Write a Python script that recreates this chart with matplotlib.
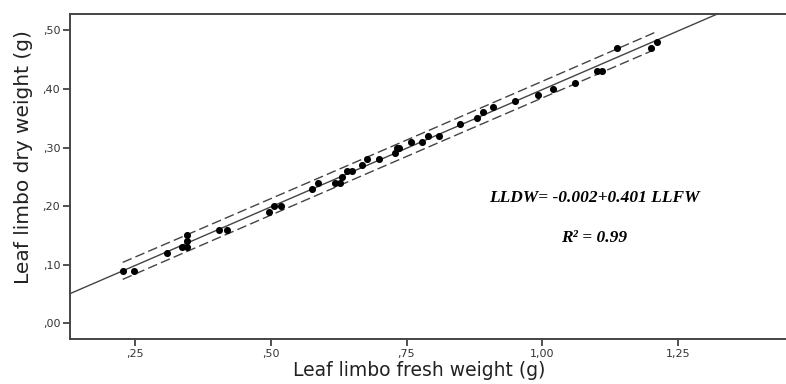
import numpy as np
import matplotlib
matplotlib.use("Agg")
import matplotlib.pyplot as plt
from matplotlib.ticker import FuncFormatter

# Data
fresh = [0.228, 0.248, 0.309, 0.338, 0.347, 0.347, 0.347, 0.406, 0.419, 0.498,
         0.507, 0.520, 0.577, 0.588, 0.618, 0.627, 0.632, 0.640, 0.649, 0.669,
         0.678, 0.699, 0.728, 0.732, 0.737, 0.759, 0.779, 0.789, 0.809, 0.849,
         0.880, 0.890, 0.910, 0.950, 0.991, 1.020, 1.060, 1.101, 1.110, 1.138,
         1.200, 1.210]
dry = [0.09, 0.09, 0.12, 0.13, 0.15, 0.14, 0.13, 0.16, 0.16, 0.19,
       0.20, 0.20, 0.23, 0.24, 0.24, 0.24, 0.25, 0.26, 0.26, 0.27,
       0.28, 0.28, 0.29, 0.30, 0.30, 0.31, 0.31, 0.32, 0.32, 0.34,
       0.35, 0.36, 0.37, 0.38, 0.39, 0.40, 0.41, 0.43, 0.43, 0.47,
       0.47, 0.48]
intercept = -0.002
slope = 0.401
pi_halfwidth = 0.0140  # prediction-interval half width at the mean

x_ticks = [0.25, 0.50, 0.75, 1.00, 1.25]
y_ticks = [0.00, 0.10, 0.20, 0.30, 0.40, 0.50]

fresh = np.array(fresh)
dry = np.array(dry)

fig = plt.figure(figsize=(7.86, 3.84), dpi=100)
ax = fig.add_axes([0.089, 0.117, 0.911, 0.8465])

xmin, xmax = 0.131, 1.448
ymin, ymax = -0.027, 0.528
ax.set_xlim(xmin, xmax)
ax.set_ylim(ymin, ymax)

# Fit line across the whole axes
xl = np.array([xmin, xmax])
ax.plot(xl, intercept + slope * xl, color="#444444", lw=1.0, zorder=2)

# Prediction interval
xs = np.linspace(fresh.min(), fresh.max(), 100)
n = len(fresh)
xm = fresh.mean()
sxx = ((fresh - xm) ** 2).sum()
hw = pi_halfwidth * np.sqrt(1 + 1 / n + (xs - xm) ** 2 / sxx) / np.sqrt(1 + 1 / n)
fit = intercept + slope * xs
for sign in (1, -1):
    ax.plot(xs, fit + sign * hw, color="#444444", lw=1.0,
            dashes=(7, 3), zorder=2)

ax.scatter(fresh, dry, s=26, color="black", zorder=3, linewidths=0)

ax.set_xticks(x_ticks)
ax.set_yticks(y_ticks)
fmt = lambda v, p: ("%.2f" % v).lstrip("0").replace(".", ",") if v < 1 else ("%.2f" % v).replace(".", ",")
ax.xaxis.set_major_formatter(FuncFormatter(fmt))
ax.yaxis.set_major_formatter(FuncFormatter(fmt))
ax.tick_params(axis="both", direction="out", length=5, width=1.2,
               color="#333333", labelsize=8, labelcolor="#333333", pad=2)

for s in ("left", "bottom", "top"):
    ax.spines[s].set_color("#444444")
    ax.spines[s].set_linewidth(1.4)
ax.spines["right"].set_visible(False)

ax.set_xlabel("Leaf limbo fresh weight (g)", fontsize=13.5, color="#222222")
ax.set_ylabel("Leaf limbo dry weight (g)", fontsize=14.5, color="#222222")
ax.xaxis.set_label_coords(0.488, -0.068)
ax.yaxis.set_label_coords(-0.052, 0.56)

ax.text(0.732, 0.434, "LLDW= -0.002+0.401 LLFW", transform=ax.transAxes,
        ha="center", va="center", family="Liberation Serif",
        style="italic", weight="bold", fontsize=12.5)
ax.text(0.732, 0.312, "R² = 0.99", transform=ax.transAxes,
        ha="center", va="center", family="Liberation Serif",
        style="italic", weight="bold", fontsize=12.5)

fig.savefig("out.png", dpi=100)
